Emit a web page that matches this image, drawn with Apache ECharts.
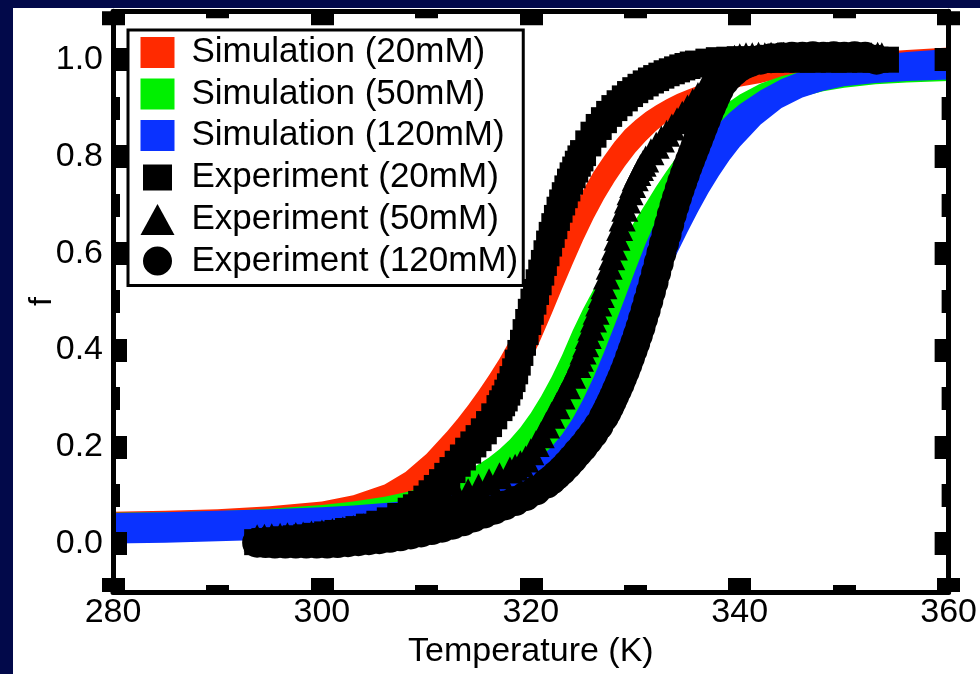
<!DOCTYPE html>
<html><head><meta charset="utf-8">
<script src="https://cdn.jsdelivr.net/npm/echarts@6/dist/echarts.min.js"></script>
<style>
html,body{margin:0;padding:0;background:#02094a;overflow:hidden;}
#paper{position:absolute;left:13px;top:8px;width:967px;height:666px;background:#fff;}
#chart{position:absolute;left:0;top:0;width:980px;height:674px;}
</style></head><body>
<div id="paper"></div>
<div id="chart"></div>
<script>
// ---------- data ----------
const xTickLabels = [280, 300, 320, 340, 360];
const yMajorTicks = [0, 0.2, 0.4, 0.6, 0.8, 1.0];
const yMinorTicks = [0.1, 0.3, 0.5, 0.7, 0.9];

const seriesNames = ['Simulation (20mM)', 'Simulation (50mM)', 'Simulation (120mM)',
                     'Experiment (20mM)', 'Experiment (50mM)', 'Experiment (120mM)'];

// simulation bands: temperature grid + upper / lower edges of each band
const simT = [280,285,290,295,300,303,306,308,310,312,313,314,315,316,317,318,319,320,321,322,323,324,325,326,327,328,329,330,331,332,333,334,335,336,337,338,339,340,342,344,346,348,350,353,356,360];
const sim20Upper = [.066,.068,.071,.077,.087,.1,.122,.148,.185,.232,.258,.286,.316,.348,.382,.42,.46,.505,.55,.598,.645,.69,.73,.768,.8,.83,.855,.875,.892,.906,.918,.929,.938,.946,.953,.96,.966,.972,.983,.992,1.0,1.006,1.011,1.016,1.02,1.025];
const sim20Lower = [.062,.063,.064,.066,.07,.075,.082,.092,.11,.135,.152,.172,.197,.225,.257,.293,.333,.377,.425,.475,.527,.578,.627,.672,.712,.748,.78,.808,.832,.853,.871,.886,.899,.91,.92,.928,.936,.944,.952,.962,.972,.981,.99,1.0,1.01,1.018];
const sim50Upper = [.064,.065,.067,.072,.08,.087,.097,.106,.118,.133,.142,.152,.164,.178,.195,.215,.24,.27,.305,.345,.39,.44,.485,.525,.562,.598,.633,.668,.703,.738,.77,.8,.828,.853,.875,.895,.913,.928,.951,.966,.976,.982,.987,.993,.997,1.0];
const sim50Lower = [.058,.059,.06,.061,.063,.065,.068,.071,.075,.081,.085,.09,.096,.103,.111,.121,.133,.147,.164,.184,.207,.234,.265,.3,.34,.385,.432,.48,.53,.58,.628,.673,.715,.752,.785,.813,.837,.857,.888,.909,.924,.935,.942,.949,.953,.956];
const sim120Upper = [.063,.065,.068,.071,.075,.079,.084,.088,.093,.099,.103,.108,.114,.121,.129,.138,.15,.164,.18,.2,.226,.258,.298,.343,.395,.45,.507,.565,.62,.668,.71,.748,.783,.815,.843,.868,.89,.908,.937,.96,.977,.99,.999,1.009,1.016,1.022];
const sim120Lower = [0,.002,.005,.008,.012,.015,.019,.022,.026,.031,.034,.038,.043,.049,.056,.065,.076,.089,.105,.123,.145,.17,.2,.235,.275,.318,.364,.412,.46,.508,.555,.6,.644,.686,.725,.76,.792,.82,.866,.9,.922,.936,.945,.952,.956,.959];

// experiments: [temperature (K), f]
const exp20 = [[293.8,0.003],[294.5,0.005],[295.5,0.007],[296.5,0.009],[297.5,0.011],[298.5,0.013],[299.5,0.016],[300.5,0.019],[301.5,0.022],[302.5,0.026],[303.5,0.03],[304.5,0.035],[305.5,0.041],[306.5,0.048],[307.5,0.057],[308.5,0.068],[309,0.075],[309.5,0.082],[310,0.093],[310.5,0.104],[311,0.115],[311.5,0.127],[312,0.14],[312.5,0.152],[313,0.165],[313.5,0.178],[314,0.192],[314.5,0.205],[315,0.218],[315.5,0.232],[316,0.247],[316.5,0.263],[317,0.28],[317.25,0.29],[317.5,0.3],[317.75,0.312],[318,0.325],[318.25,0.34],[318.5,0.356],[318.75,0.374],[319,0.394],[319.25,0.415],[319.5,0.437],[319.75,0.458],[320,0.479],[320.25,0.5],[320.5,0.52],[320.75,0.54],[321,0.56],[321.25,0.58],[321.5,0.6],[321.75,0.62],[322,0.638],[322.25,0.656],[322.5,0.673],[322.75,0.69],[323,0.705],[323.25,0.72],[323.5,0.734],[323.75,0.748],[324,0.761],[324.25,0.773],[324.5,0.785],[324.75,0.796],[325,0.807],[325.5,0.827],[326,0.845],[326.5,0.861],[327,0.875],[327.5,0.888],[328,0.9],[328.5,0.91],[329,0.92],[329.5,0.929],[330,0.937],[330.5,0.944],[331,0.951],[331.5,0.957],[332,0.962],[332.5,0.967],[333,0.972],[333.5,0.976],[334,0.98],[334.5,0.984],[335,0.987],[335.5,0.99],[336,0.992],[337,0.996],[338,0.999],[339,1.0],[340,1.001],[341,1.0],[342,1.001],[343,1.0],[344,1.0],[345,1.001],[346,1.0],[347,1.0],[348,1.001],[349,1.0],[350,1.0],[351,1.001],[352,1.0],[353,1.0],[354,1.0]];
const exp50 = [[293.8,0.012],[294.5,0.013],[295.2,0.014],[296,0.015],[296.7,0.016],[297.5,0.017],[298.2,0.018],[299,0.02],[300,0.022],[301,0.025],[302,0.028],[303,0.031],[304,0.035],[305,0.04],[306,0.045],[307,0.051],[308,0.058],[309,0.066],[310,0.074],[311,0.082],[312,0.09],[313,0.098],[314,0.107],[315,0.117],[316,0.128],[317,0.14],[318,0.152],[318.5,0.158],[319,0.165],[319.5,0.175],[320,0.19],[320.5,0.207],[321,0.225],[321.5,0.245],[322,0.265],[322.5,0.285],[323,0.305],[323.5,0.326],[324,0.348],[324.5,0.37],[324.75,0.383],[325,0.398],[325.25,0.413],[325.5,0.43],[325.75,0.447],[326,0.464],[326.25,0.48],[326.5,0.497],[326.75,0.515],[327,0.533],[327.25,0.553],[327.5,0.573],[327.75,0.593],[328,0.613],[328.25,0.633],[328.5,0.653],[328.75,0.673],[329,0.693],[329.25,0.71],[329.5,0.727],[329.75,0.742],[330,0.756],[330.25,0.767],[330.5,0.777],[330.75,0.786],[331,0.795],[331.5,0.81],[332,0.823],[332.5,0.836],[333,0.848],[333.5,0.861],[334,0.874],[334.5,0.887],[335,0.9],[335.5,0.913],[336,0.926],[336.5,0.94],[337,0.955],[337.5,0.968],[338,0.98],[338.5,0.99],[339,0.997],[339.5,1.003],[340,1.006],[340.6,1.008],[341.2,1.008],[341.8,1.009],[342.4,1.008],[343,1.009],[343.6,1.008],[344.2,1.009],[344.8,1.009],[345.4,1.008],[346,1.009],[346.6,1.009],[347.2,1.008],[347.8,1.009],[348.4,1.009],[349,1.008],[349.6,1.009],[350.2,1.009],[350.8,1.008],[351.4,1.009],[352,1.009],[352.6,1.008],[353.2,1.009],[353.6,1.008]];
const exp120 = [[293.8,0.002],[294.6,0.001],[295.5,0.0],[296.5,0.0],[297.5,0.0],[298.5,0.0],[299.5,0.0],[300.5,0.0],[301.5,0.001],[302.5,0.003],[303.5,0.005],[304.5,0.007],[305.5,0.009],[306.5,0.012],[307.5,0.015],[308.5,0.019],[309.5,0.023],[310.5,0.028],[311.5,0.033],[312.5,0.039],[313.5,0.046],[314.5,0.054],[315.5,0.062],[316.5,0.07],[317.5,0.079],[318.5,0.088],[319.5,0.098],[320.5,0.11],[321.5,0.124],[322,0.132],[322.5,0.142],[323,0.152],[323.5,0.163],[324,0.175],[324.5,0.188],[325,0.2],[325.5,0.214],[326,0.228],[326.5,0.244],[327,0.262],[327.25,0.272],[327.5,0.283],[327.75,0.294],[328,0.306],[328.25,0.318],[328.5,0.33],[328.75,0.343],[329,0.356],[329.25,0.37],[329.5,0.385],[329.75,0.4],[330,0.415],[330.25,0.431],[330.5,0.447],[330.75,0.465],[331,0.483],[331.25,0.502],[331.5,0.521],[331.75,0.54],[332,0.56],[332.25,0.58],[332.5,0.6],[332.75,0.62],[333,0.64],[333.25,0.66],[333.5,0.68],[333.75,0.698],[334,0.715],[334.25,0.732],[334.5,0.748],[334.75,0.763],[335,0.778],[335.25,0.792],[335.5,0.806],[335.75,0.82],[336,0.834],[336.25,0.848],[336.5,0.862],[336.75,0.876],[337,0.89],[337.25,0.903],[337.5,0.915],[337.75,0.927],[338,0.938],[338.5,0.955],[339,0.967],[339.5,0.977],[340,0.985],[340.5,0.991],[341,0.995],[342,1.0],[343,1.003],[344,1.005],[345,1.006],[346,1.006],[347,1.007],[348,1.006],[349,1.007],[350,1.006],[351,1.007],[352,1.006],[353.1,1.0]];

// ---------- chart ----------
const FONT = '"Liberation Sans", Arial, Helvetica, sans-serif';
const BLACK = '#000';
const colors = { red: '#ff2a00', green: '#00f000', blue: '#0a32ff' };

function bandRenderer(upper, lower, color) {
  return function (params, api) {
    const pts = [];
    for (let i = 0; i < simT.length; i++) pts.push(api.coord([simT[i], upper[i]]));
    for (let i = simT.length - 1; i >= 0; i--) pts.push(api.coord([simT[i], lower[i]]));
    return { type: 'polygon', shape: { points: pts }, style: { fill: color } };
  };
}
function bandSeries(name, upper, lower, color) {
  return {
    name, type: 'custom', xAxisIndex: 0, yAxisIndex: 0, clip: true, z: 2,
    itemStyle: { color }, data: [[simT[0], lower[0]]],
    renderItem: bandRenderer(upper, lower, color)
  };
}
function expSeries(name, data, symbol, size) {
  return {
    name, type: 'scatter', xAxisIndex: 0, yAxisIndex: 0, data, symbol, symbolSize: size,
    itemStyle: { color: BLACK, opacity: 1 }, z: 3, emphasis: { disabled: true }
  };
}
const tickLine = { color: BLACK, width: 23 };
function xAx(pos, withLabel) {
  return {
    type: 'value', position: pos, min: 280, max: 360, interval: 20, z: 5,
    axisLine: { show: true, onZero: false, lineStyle: { color: BLACK, width: 5 } },
    axisTick: { show: true, inside: true, length: 14, lineStyle: tickLine },
    minorTick: { show: true, splitNumber: 2, length: 7, lineStyle: tickLine },
    splitLine: { show: false }, minorSplitLine: { show: false },
    axisLabel: withLabel ? { show: true, margin: 4, color: BLACK, fontSize: 34, fontFamily: FONT,
      showMinLabel: true, showMaxLabel: true, formatter: v => String(v) } : { show: false },
    name: withLabel ? 'Temperature (K)' : '', nameLocation: 'middle', nameGap: 43,
    nameTextStyle: { color: BLACK, fontSize: 34, fontFamily: FONT }
  };
}
function yAx(pos, major, withLabel) {
  return {
    type: 'value', position: pos, min: -0.1, max: 1.1, z: 5,
    axisLine: { show: major, onZero: false, lineStyle: { color: BLACK, width: 5 } },
    axisTick: { show: true, inside: true, length: major ? 14 : 7,
      customValues: major ? yMajorTicks : yMinorTicks, lineStyle: tickLine },
    splitLine: { show: false },
    axisLabel: withLabel ? { show: true, customValues: yMajorTicks, margin: 10, color: BLACK,
      fontSize: 34, fontFamily: FONT, formatter: v => v.toFixed(1) } : { show: false },
    name: withLabel ? 'f' : '', nameLocation: 'middle', nameGap: 55, nameRotate: 90,
    nameMoveOverlap: false,
    nameTextStyle: { color: BLACK, fontSize: 32, fontFamily: FONT }
  };
}

const chart = echarts.init(document.getElementById('chart'), null, { renderer: 'canvas' });
chart.setOption({
  animation: false,
  backgroundColor: 'transparent',
  grid: { left: 113, top: 11.3, width: 836, height: 584.4, containLabel: false },
  xAxis: [xAx('bottom', true), xAx('top', false)],
  yAxis: [yAx('left', true, true), yAx('right', true, false), yAx('left', false, false), yAx('right', false, false)],
  legend: {
    orient: 'vertical', left: 128, top: 30, z: 10,
    padding: [5, 5, 7, 10], itemGap: 6.5, itemWidth: 34, itemHeight: 31,
    backgroundColor: '#fff', borderColor: BLACK, borderWidth: 3, borderRadius: 0,
    selectedMode: false,
    textStyle: { fontSize: 35, fontFamily: FONT, color: BLACK, padding: [0, 0, 0, 12] },
    data: [
      { name: seriesNames[0], icon: 'rect', itemStyle: { color: colors.red } },
      { name: seriesNames[1], icon: 'rect', itemStyle: { color: colors.green } },
      { name: seriesNames[2], icon: 'rect', itemStyle: { color: colors.blue } },
      { name: seriesNames[3], icon: 'rect', itemStyle: { color: BLACK, borderColor: '#fff', borderWidth: 5 } },
      { name: seriesNames[4], icon: 'triangle', itemStyle: { color: BLACK } },
      { name: seriesNames[5], icon: 'circle', itemStyle: { color: BLACK, borderColor: '#fff', borderWidth: 2 } }
    ]
  },
  series: [
    bandSeries(seriesNames[0], sim20Upper, sim20Lower, colors.red),
    bandSeries(seriesNames[1], sim50Upper, sim50Lower, colors.green),
    bandSeries(seriesNames[2], sim120Upper, sim120Lower, colors.blue),
    expSeries(seriesNames[3], exp20, 'rect', 26),
    expSeries(seriesNames[4], exp50, 'triangle', 27),
    expSeries(seriesNames[5], exp120, 'circle', 30)
  ]
});
</script></body></html>
